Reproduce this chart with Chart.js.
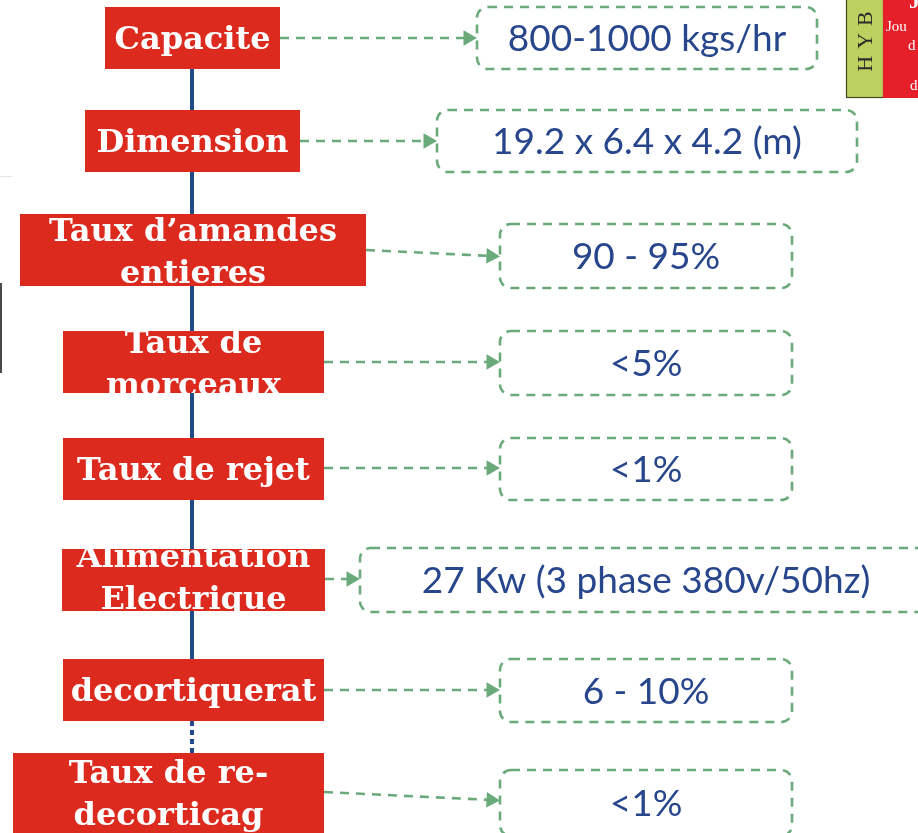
<!DOCTYPE html>
<html><head><meta charset="utf-8">
<script src="https://cdn.jsdelivr.net/npm/chart.js@4/dist/chart.umd.min.js"></script>
<style>html,body{margin:0;padding:0;background:#fff;overflow:hidden}canvas{display:block}</style>
</head><body><canvas id="c" width="918" height="833"></canvas>
<script>
// ---- content ----
const categories = ['Capacite', 'Dimension', 'Taux d\u2019amandes\nentieres', 'Taux de\nmorceaux', 'Taux de rejet', 'Alimentation\nElectrique', 'decortiquerat', 'Taux de re-\ndecorticag'];
const values = ['800-1000 kgs/hr', '19.2 x 6.4 x 4.2 (m)', '90 - 95%', '<5%', '<1%', '27 Kw (3 phase 380v/50hz)', '6 - 10%', '<1%'];

// ---- layout (pixel space of the hidden 0..918 / 0..833 scales) ----
const labelBoxes = [[105,280,7,69],[85,300,110,172],[20,366,214,286],[63,324,331,393],[63,324,438,500],[62,325,549,611],[63,324,659,721],[13,324,753,837]];
const valueBoxes = [[477,817,7,69],[437,857,110,172],[500,792,224,288],[500,792,331,395],[500,792,438,500],[360,932,548,612],[500,792,659,722],[500,792,770,836]];
const arrowYs = [[38,38],[141,141],[250,256],[362,362],[468,468],[579,579],[690,690],[792,800]];
const labelShift = [0,0,0,0,0,-4,0,-3];
const spineX = 192;

const RED = '#dc2b1e', GREEN = '#6aa97a', BLUE = '#1f4b87', TXT = '#27468c';

const datasets = [
  {data:[{x:spineX,y:69},{x:spineX,y:721}], borderColor:BLUE, borderWidth:4, pointRadius:0, showLine:true},
  {data:[{x:spineX,y:721},{x:spineX,y:753}], borderColor:BLUE, borderWidth:4, borderDash:[5,4], pointRadius:0, showLine:true}
];
arrowYs.forEach((ys,i)=>{
  const ex = valueBoxes[i][0]-9;
  datasets.push({
    data:[{x:labelBoxes[i][1],y:ys[0]},{x:ex,y:ys[1]}],
    borderColor:GREEN, borderWidth:2.6, borderDash:[9,7], showLine:true,
    pointRadius:[0,9], pointStyle:'triangle', rotation: Math.atan2(ys[1]-ys[0], ex-labelBoxes[i][1])*180/Math.PI + 90,
    pointBackgroundColor:GREEN, pointBorderColor:GREEN, pointBorderWidth:0
  });
});

function rr(ctx,x,y,w,h,r){
  ctx.beginPath();
  ctx.moveTo(x+r,y);ctx.lineTo(x+w-r,y);ctx.arcTo(x+w,y,x+w,y+r,r);
  ctx.lineTo(x+w,y+h-r);ctx.arcTo(x+w,y+h,x+w-r,y+h,r);
  ctx.lineTo(x+r,y+h);ctx.arcTo(x,y+h,x,y+h-r,r);
  ctx.lineTo(x,y+r);ctx.arcTo(x,y,x+r,y,r);ctx.closePath();
}

const boxesPlugin = {
  id:'boxes',
  beforeDraw(chart){
    const c=chart.ctx; c.save(); c.fillStyle='#fff'; c.fillRect(0,0,chart.width,chart.height); c.restore();
  },
  afterDatasetsDraw(chart){
    const ctx=chart.ctx, xs=chart.scales.x, ys=chart.scales.y;
    const X=v=>xs.getPixelForValue(v), Y=v=>ys.getPixelForValue(v);
    ctx.save();
    // red label boxes
    categories.forEach((lab,i)=>{
      const [a,b,t,u]=labelBoxes[i];
      const x1=X(a),x2=X(b),y1=Y(t),y2=Y(u);
      ctx.fillStyle=RED; ctx.fillRect(x1,y1,x2-x1,y2-y1);
      ctx.save(); ctx.beginPath(); ctx.rect(x1,y1,x2-x1,y2-y1); ctx.clip();
      ctx.fillStyle='#fff'; ctx.font='bold 32px "DejaVu Serif"'; ctx.textAlign='center'; ctx.textBaseline='alphabetic';
      const cx=(x1+x2)/2, cy=(y1+y2)/2+labelShift[i];
      const lines=lab.split('\n');
      if(lines.length===1) ctx.fillText(lines[0],cx,cy+11);
      else { ctx.fillText(lines[0],cx,cy-9); ctx.fillText(lines[1],cx,cy+33); }
      ctx.restore();
    });
    // dashed value boxes
    values.forEach((val,i)=>{
      const [a,b,t,u]=valueBoxes[i];
      const x1=X(a),x2=X(b),y1=Y(t),y2=Y(u);
      ctx.save();
      ctx.strokeStyle=GREEN; ctx.lineWidth=2.6; ctx.setLineDash([9,7]);
      rr(ctx,x1,y1,x2-x1,y2-y1,11); ctx.stroke();
      ctx.restore();
      ctx.fillStyle=TXT; ctx.font='37px Lato'; ctx.textAlign='center'; ctx.textBaseline='alphabetic';
      ctx.fillText(val,(x1+x2)/2,(y1+y2)/2+13);
    });
    // decorations: corner book covers and left edge fragments
    ctx.fillStyle='#bdd160'; ctx.fillRect(X(846),Y(0),X(883)-X(846),Y(98)-Y(0));
    ctx.strokeStyle='#3d4a25'; ctx.lineWidth=1.2; ctx.strokeRect(X(846)+0.5,Y(0)-1,X(883)-X(846),Y(98)-Y(0)+0.5);
    ctx.save(); ctx.translate(X(866),Y(50)); ctx.rotate(-Math.PI/2);
    ctx.fillStyle='#2b2b2b'; ctx.font='22px "Liberation Serif"'; ctx.textAlign='center'; ctx.textBaseline='middle';
    ctx.letterSpacing='7px'; ctx.fillText('HYB',12,0); ctx.restore();
    ctx.fillStyle='#e5202a'; ctx.fillRect(X(883),Y(0),X(918)-X(883),Y(98)-Y(0));
    ctx.save(); ctx.beginPath(); ctx.rect(X(883),Y(0),X(918)-X(883),Y(98)-Y(0)); ctx.clip();
    ctx.fillStyle='#fff'; ctx.font='bold 22px "Liberation Serif"'; ctx.textAlign='left'; ctx.textBaseline='alphabetic';
    ctx.fillText('J',X(909),Y(8));
    ctx.font='15px "Liberation Serif"';
    ctx.fillText('Jou',X(886),Y(31)); ctx.fillText('d',X(908),Y(50)); ctx.fillText('d',X(910),Y(90));
    ctx.restore();
    ctx.strokeStyle='#4a4a4a'; ctx.lineWidth=2; ctx.beginPath(); ctx.moveTo(X(1),Y(283)); ctx.lineTo(X(1),Y(373)); ctx.stroke();
    ctx.strokeStyle='#e4e4e4'; ctx.lineWidth=1; ctx.beginPath(); ctx.moveTo(X(0),Y(176.5)); ctx.lineTo(X(12),Y(176.5)); ctx.stroke();
    ctx.restore();
  }
};

new Chart(document.getElementById('c'), {
  type:'scatter',
  data:{datasets},
  options:{
    responsive:false, animation:false, devicePixelRatio:1,
    layout:{padding:0, autoPadding:false},
    plugins:{legend:{display:false}, tooltip:{enabled:false}},
    scales:{
      x:{type:'linear', min:0, max:918, display:false},
      y:{type:'linear', min:0, max:833, reverse:true, display:false}
    },
    elements:{line:{tension:0}}
  },
  plugins:[boxesPlugin]
});
</script></body></html>
